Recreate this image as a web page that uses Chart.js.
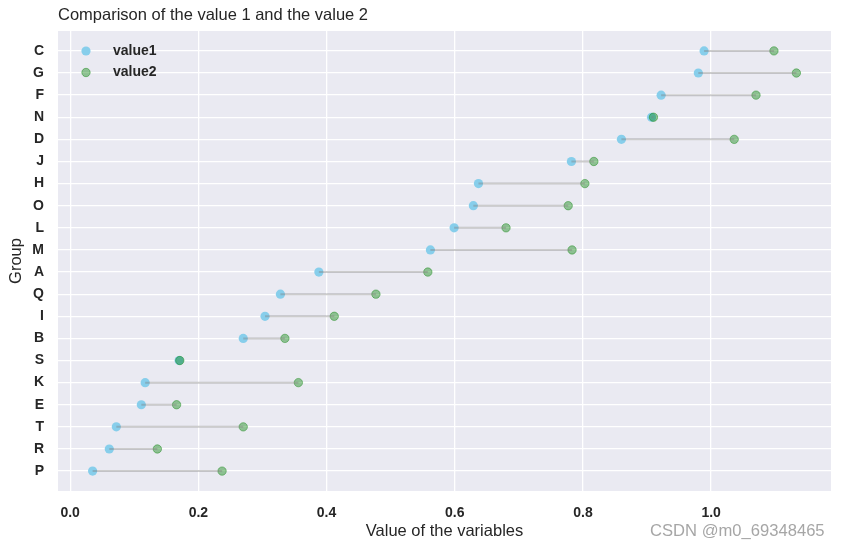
<!DOCTYPE html>
<html lang="en">
<head>
<meta charset="UTF-8">
<title>Comparison of the value 1 and the value 2</title>
<style>
  body { margin: 0; background: #ffffff; }
  .wrap { position: relative; width: 841px; height: 550px; }
  .mark {
    position: absolute; left: 650px; top: 521px; line-height: 20px;
    font: 16.6px "Liberation Sans", Arial, sans-serif; color: #a6a6a6;
  }
</style>
</head>
<body>
<div class="wrap">
  <canvas id="chart" width="841" height="550"></canvas>
  <div class="mark">CSDN @m0_69348465</div>
</div>

<script src="https://cdn.jsdelivr.net/npm/chart.js"></script>
<script>
// groups from top to bottom (sorted by value1, descending)
var groups = ['C', 'G', 'F', 'N', 'D', 'J', 'H', 'O', 'L', 'M',
              'A', 'Q', 'I', 'B', 'S', 'K', 'E', 'T', 'R', 'P'];
var value1 = [0.989, 0.980, 0.922, 0.907, 0.860, 0.782, 0.637, 0.629, 0.599, 0.562,
              0.388, 0.328, 0.304, 0.270, 0.170, 0.117, 0.111, 0.072, 0.061, 0.035];
var value2 = [1.098, 1.133, 1.070, 0.910, 1.036, 0.817, 0.803, 0.777, 0.680, 0.783,
              0.558, 0.477, 0.412, 0.335, 0.171, 0.356, 0.166, 0.270, 0.136, 0.237];
var xTicks = [0.0, 0.2, 0.4, 0.6, 0.8, 1.0];

var FONT = '"Liberation Sans", Arial, sans-serif';
var blue = '#87CEEB';
var green = 'rgba(0, 128, 0, 0.4)';

// grey connecting lines (order 0 = painted last, on top of the dots)
var datasets = groups.map(function (g, i) {
    return {
        type: 'line',
        label: 'line ' + g,
        order: 0,
        data: [{ x: value1[i], y: i }, { x: value2[i], y: i }],
        borderColor: 'rgba(128, 128, 128, 0.4)',
        borderWidth: 2,
        pointRadius: 0,
        fill: false
    };
});
datasets.push({
    type: 'scatter',
    label: 'value1',
    order: 2,
    data: value1.map(function (v, i) { return { x: v, y: i }; }),
    backgroundColor: blue,
    borderColor: blue,
    borderWidth: 0,
    pointRadius: 4.6
});
datasets.push({
    type: 'scatter',
    label: 'value2',
    order: 1,
    data: value2.map(function (v, i) { return { x: v, y: i }; }),
    backgroundColor: green,
    borderColor: green,
    borderWidth: 1,
    pointRadius: 4.2
});

// legend drawn inside the plot, top left
var innerLegend = {
    id: 'innerLegend',
    afterDatasetsDraw: function (chart) {
        var ctx = chart.ctx;
        var area = chart.chartArea;
        var items = chart.data.datasets.filter(function (d) { return d.type === 'scatter'; });
        ctx.save();
        items.forEach(function (d, k) {
            var y = area.top + 20 + k * 21.5;
            ctx.beginPath();
            ctx.arc(area.left + 28, y, d.pointRadius, 0, Math.PI * 2);
            ctx.fillStyle = d.backgroundColor;
            ctx.fill();
            if (d.borderWidth) {
                ctx.lineWidth = d.borderWidth;
                ctx.strokeStyle = d.borderColor;
                ctx.stroke();
            }
            ctx.fillStyle = '#262626';
            ctx.font = 'bold 14px ' + FONT;
            ctx.textBaseline = 'middle';
            ctx.textAlign = 'left';
            ctx.fillText(d.label, area.left + 55, y);
        });
        ctx.restore();
    }
};

// seaborn-like grey background of the plot area
var plotBg = {
    id: 'plotBg',
    beforeDraw: function (chart) {
        var a = chart.chartArea;
        chart.ctx.save();
        chart.ctx.fillStyle = '#EAEAF2';
        chart.ctx.fillRect(a.left, a.top, a.right - a.left, a.bottom - a.top);
        chart.ctx.restore();
    }
};

new Chart(document.getElementById('chart'), {
    data: { datasets: datasets },
    plugins: [plotBg, innerLegend],
    options: {
        responsive: false,
        animation: false,
        layout: { padding: { left: 0, right: 10, top: 0, bottom: 0 } },
        plugins: {
            legend: { display: false },
            tooltip: { enabled: false },
            title: {
                display: true,
                text: 'Comparison of the value 1 and the value 2',
                align: 'start',
                fullSize: false,
                color: '#262626',
                font: { family: FONT, size: 16.5, weight: 'normal' },
                padding: { top: 6, bottom: 5.2 }
            }
        },
        scales: {
            x: {
                type: 'linear',
                min: -0.019,
                max: 1.187,
                afterFit: function (s) { s.height = 59; },
                afterBuildTicks: function (s) {
                    s.ticks = xTicks.map(function (v) { return { value: v }; });
                },
                border: { display: false },
                grid: { color: '#ffffff', lineWidth: 1.3, drawTicks: false },
                ticks: {
                    padding: 14,
                    color: '#262626',
                    font: { family: FONT, size: 14, weight: 'bold' },
                    callback: function (v) { return v.toFixed(1); }
                },
                title: {
                    display: true,
                    text: 'Value of the variables',
                    color: '#262626',
                    font: { family: FONT, size: 16.5 },
                    padding: { top: 0, bottom: 9 }
                }
            },
            y: {
                type: 'linear',
                reverse: true,
                min: -0.9,
                max: 19.9,
                afterFit: function (s) { s.width = 58; },
                afterBuildTicks: function (s) {
                    s.ticks = groups.map(function (g, i) { return { value: i }; });
                },
                border: { display: false },
                grid: { color: '#ffffff', lineWidth: 1.3, drawTicks: false },
                ticks: {
                    padding: 14,
                    color: '#262626',
                    font: { family: FONT, size: 14, weight: 'bold' },
                    callback: function (v) { return groups[v]; }
                },
                title: {
                    display: true,
                    text: 'Group',
                    color: '#262626',
                    font: { family: FONT, size: 16.5 },
                    padding: { top: 7, bottom: 0 }
                }
            }
        }
    }
});
</script>
</body>
</html>
